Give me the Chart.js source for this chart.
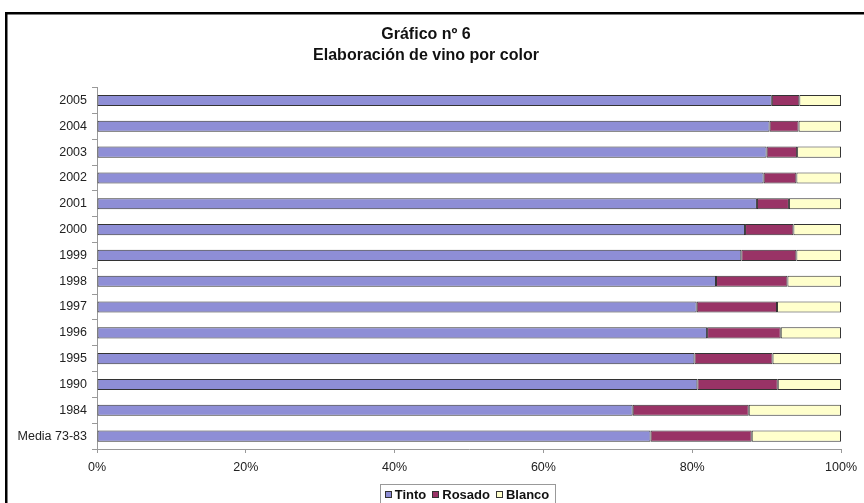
<!DOCTYPE html>
<html>
<head>
<meta charset="utf-8">
<title>Elaboración de vino por color</title>
<script src="https://cdn.jsdelivr.net/npm/chart.js@4"></script>
<style>
    html, body { margin: 0; padding: 0; background: #fff; }
    #wrap { width: 864px; height: 503px; position: relative; }
</style>
</head>
<body>
<div id="wrap"><canvas id="vinoChart" width="864" height="503"></canvas></div>
<script>
const years = ['2005','2004','2003','2002','2001','2000','1999','1998','1997','1996','1995','1990','1984','Media 73-83'];
const tinto  = [90.7, 90.4, 90.0, 89.6, 88.7, 87.1, 86.6, 83.2, 80.6, 82.0, 80.3, 80.7, 72.0, 74.4];
const rosado = [ 3.7,  3.9,  4.1,  4.4,  4.3,  6.5,  7.4,  9.6, 10.8,  9.9, 10.5, 10.8, 15.6, 13.6];
const blanco = [ 5.6,  5.7,  5.9,  6.0,  7.0,  6.4,  6.0,  7.2,  8.6,  8.1,  9.2,  8.5, 12.4, 12.0];

const FONT = 'Liberation Sans, Arial, sans-serif';

// black frame round the whole chart
const frame = {
    id: 'frame',
    beforeDraw(chart) {
        let ctx = chart.ctx;
        ctx.save();
        ctx.strokeStyle = '#000';
        ctx.lineWidth = 2.5;
        ctx.strokeRect(6.25, 13.25, 1000, 1000);
        ctx.restore();
    }
};

// small boxed legend under the axis
const legendBox = {
    id: 'legendBox',
    afterDraw(chart) {
        let ctx = chart.ctx;
        let sets = chart.data.datasets;
        ctx.save();
        ctx.font = 'bold 13px ' + FONT;
        ctx.textBaseline = 'middle';
        let widths = sets.map(d => ctx.measureText(d.label).width);
        let total = 5;
        for(let i = 0; i < sets.length; i++)
            total += 7 + 3 + widths[i] + (i < sets.length - 1 ? 6 : 5);
        let left = 467 - total/2;
        let top = 484.5, h = 19;
        ctx.strokeStyle = '#999';
        ctx.lineWidth = 1;
        ctx.strokeRect(Math.round(left) + 0.5, top, Math.round(total), h);
        let x = left + 5;
        let cy = top + h/2 + 1;
        for(let i = 0; i < sets.length; i++)
        {
            ctx.fillStyle = sets[i].backgroundColor;
            ctx.fillRect(Math.round(x), Math.round(cy - 4), 7, 7);
            ctx.strokeStyle = '#333';
            ctx.strokeRect(Math.round(x) + 0.5, Math.round(cy - 4) + 0.5, 6, 6);
            x += 10;
            ctx.fillStyle = '#111';
            ctx.fillText(sets[i].label, x, cy);
            x += widths[i] + 6;
        }
        ctx.restore();
    }
};

const tickFont = { family: FONT, size: 12.5 };

const chart = new Chart(document.getElementById('vinoChart'), {
    type: 'bar',
    data: {
        labels: years,
        datasets: [
            { label: 'Tinto',  data: tinto,  backgroundColor: '#8e8ed6' },
            { label: 'Rosado', data: rosado, backgroundColor: '#993366' },
            { label: 'Blanco', data: blanco, backgroundColor: '#ffffcc' }
        ].map(d => Object.assign(d, {
            borderColor: '#333',
            borderWidth: 1,
            borderSkipped: false,
            barPercentage: 0.43,
            categoryPercentage: 1
        }))
    },
    options: {
        indexAxis: 'y',
        responsive: false,
        animation: false,
        layout: { padding: { left: 10, right: 22, top: 24, bottom: 0 } },
        scales: {
            x: {
                stacked: true,
                min: 0,
                max: 100,
                border: { color: '#999' },
                grid: { drawOnChartArea: false, tickLength: 4, color: '#999' },
                ticks: {
                    stepSize: 20,
                    padding: 7,
                    color: '#222',
                    font: tickFont,
                    callback: v => v + '%'
                },
                afterFit: scale => { scale.height = 54; }
            },
            y: {
                stacked: true,
                border: { color: '#999' },
                grid: { drawOnChartArea: false, tickLength: 5, color: '#999', offset: true },
                ticks: { padding: 5, color: '#222', font: tickFont },
                afterFit: scale => { scale.width = 87; }
            }
        },
        plugins: {
            legend: { display: false },
            tooltip: { enabled: false },
            title: {
                display: true,
                text: ['Gráfico nº 6', 'Elaboración de vino por color'],
                color: '#111',
                font: { family: FONT, size: 16, weight: 'bold', lineHeight: 1.3 },
                padding: { top: 0, bottom: 22 }
            }
        }
    },
    plugins: [frame, legendBox]
});
</script>
</body>
</html>
